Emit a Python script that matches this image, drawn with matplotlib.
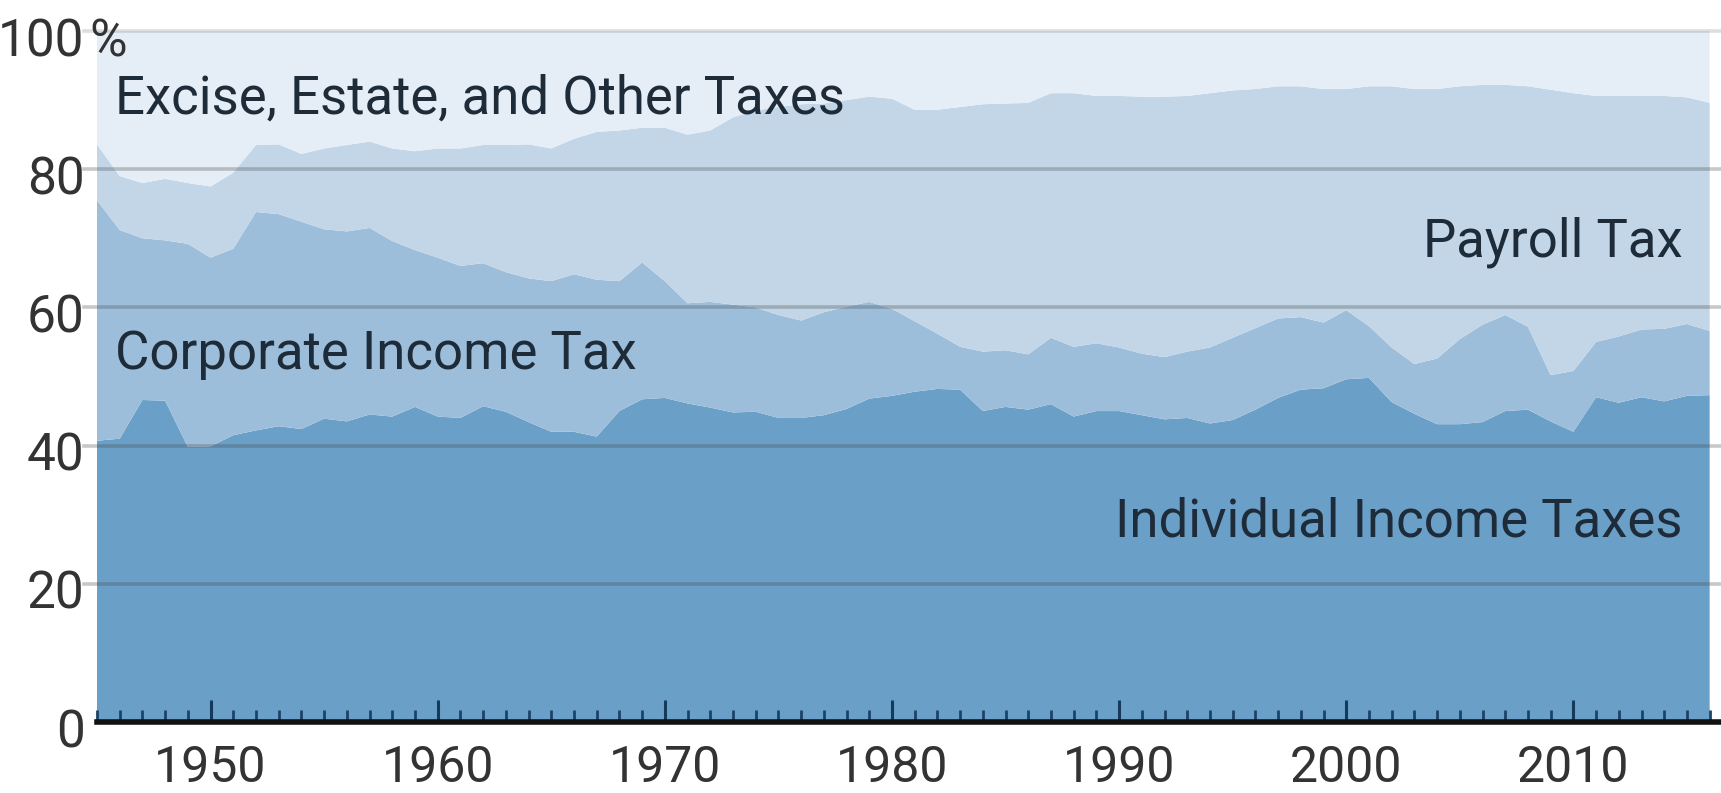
import matplotlib
matplotlib.use("Agg")
import matplotlib.pyplot as plt
import matplotlib.transforms as mtransforms
import numpy as np

years = list(range(1945, 2017))

individual = [40.7, 41.0, 46.6, 46.5, 39.8, 39.9, 41.5, 42.2, 42.8, 42.4, 43.9, 43.5,
              44.5, 44.2, 45.6, 44.2, 44.0, 45.7, 44.9, 43.4, 42.0, 42.0, 41.3, 45.0,
              46.7, 46.9, 46.1, 45.5, 44.8, 44.9, 44.0, 44.0, 44.4, 45.3, 46.8, 47.2,
              47.8, 48.2, 48.1, 45.0, 45.6, 45.2, 46.0, 44.2, 45.0, 45.0, 44.4, 43.8,
              44.0, 43.2, 43.7, 45.2, 46.9, 48.1, 48.3, 49.6, 49.8, 46.3, 44.6, 43.1,
              43.1, 43.4, 45.0, 45.2, 43.5, 42.0, 47.0, 46.2, 47.0, 46.4, 47.2, 47.3]

corp_top = [75.5, 71.2, 70.0, 69.7, 69.2, 67.2, 68.5, 73.8, 73.5, 72.4, 71.3, 71.0,
            71.5, 69.6, 68.3, 67.2, 66.0, 66.4, 65.1, 64.2, 63.8, 64.8, 64.0, 63.8,
            66.5, 63.8, 60.6, 60.8, 60.4, 60.0, 58.9, 58.1, 59.3, 60.1, 60.8, 59.8,
            58.0, 56.2, 54.3, 53.6, 53.8, 53.2, 55.6, 54.3, 54.8, 54.2, 53.3, 52.8,
            53.6, 54.2, 55.6, 57.0, 58.4, 58.6, 57.8, 59.6, 57.3, 54.2, 51.8, 52.6,
            55.4, 57.5, 58.9, 57.2, 50.2, 50.8, 55.0, 55.8, 56.8, 56.9, 57.6, 56.6]

payroll_top = [83.6, 79.0, 78.0, 78.6, 78.0, 77.5, 79.5, 83.5, 83.6, 82.2, 83.0, 83.5,
               84.0, 83.0, 82.6, 83.0, 83.0, 83.5, 83.5, 83.6, 83.0, 84.4, 85.4, 85.6,
               86.0, 86.0, 85.0, 85.6, 87.5, 88.5, 89.0, 89.4, 89.5, 90.0, 90.5, 90.2,
               88.6, 88.6, 89.0, 89.4, 89.5, 89.6, 91.0, 91.0, 90.6, 90.6, 90.5, 90.5,
               90.6, 91.0, 91.4, 91.6, 92.0, 92.0, 91.6, 91.6, 92.0, 92.0, 91.6, 91.6,
               92.0, 92.2, 92.2, 92.0, 91.5, 91.0, 90.6, 90.6, 90.6, 90.6, 90.4, 89.6]

categories = ["Individual Income Taxes", "Corporate Income Tax", "Payroll Tax",
              "Excise, Estate, and Other Taxes"]
y_ticks = [0, 20, 40, 60, 80, 100]
y_tick_labels = ["0", "20", "40", "60", "80", "100"]
x_ticks = [1950, 1960, 1970, 1980, 1990, 2000, 2010]

yrs = np.array(years, dtype=float)
ind = np.array(individual)
corp = np.array(corp_top) - ind
pay = np.array(payroll_top) - np.array(corp_top)
other = 100.0 - np.array(payroll_top)

colors = ["#6a9fc8", "#9dbedb", "#c2d6e7", "#e5edf6"]

FONT = ["Roboto", "DejaVu Sans"]
plt.rcParams["font.family"] = FONT

fig = plt.figure(figsize=(17.21, 7.93), dpi=100)
ax = fig.add_axes([97 / 1721, 71 / 793, (1721 - 97) / 1721, (722 - 31) / 793])

ax.stackplot(yrs, ind, corp, pay, other, colors=colors, linewidth=0, zorder=1)

ax.set_xlim(1945, 2016.5)
ax.set_ylim(0, 100)

# gridlines
for v in y_ticks[1:]:
    ax.axhline(v, color="#4a4a4a", alpha=0.3 if v < 100 else 0.18, lw=2.6, zorder=3,
               xmin=-0.008, xmax=1, clip_on=False)

for s in ["top", "right", "left"]:
    ax.spines[s].set_visible(False)
ax.spines["bottom"].set_linewidth(4)
ax.spines["bottom"].set_color("#111111")
ax.spines["bottom"].set_zorder(5)

ax.set_yticks(y_ticks)
ax.set_yticklabels(y_tick_labels)
ax.tick_params(axis="y", length=0, pad=9, labelsize=37, labelcolor="#333333")
# nudge y labels slightly below their gridlines, as in the reference
for lab in ax.get_yticklabels():
    lab.set_transform(lab.get_transform() +
                      mtransforms.ScaledTranslation(0, -4 / 72, fig.dpi_scale_trans))

ax.set_xticks(x_ticks)
ax.set_xticks(years, minor=True)
ax.tick_params(axis="x", which="major", direction="in", length=16, width=2.2,
               color="#163a5c", labelsize=36, labelcolor="#333333", pad=16)
ax.tick_params(axis="x", which="minor", direction="in", length=9, width=2.0,
               color="#1c4468")
for t in ax.xaxis.get_major_ticks() + ax.xaxis.get_minor_ticks():
    t.tick1line.set_zorder(4)
ax.set_axisbelow(False)

# percent sign for 100
trans = mtransforms.blended_transform_factory(ax.transAxes, ax.transData)
pct = ax.text(-0.0045, 100, "%", transform=trans, fontsize=37, color="#333333",
              ha="left", va="center_baseline")
pct.set_transform(trans + mtransforms.ScaledTranslation(0, -4 / 72, fig.dpi_scale_trans))

# area labels
lab_col = "#1e2c3a"
kw = dict(fontsize=38, color=lab_col, va="center", zorder=6)
ax.text(1945.8, 90.2, categories[3], ha="left", **kw)
ax.text(2014.8, 69.5, categories[2], ha="right", **kw)
ax.text(1945.8, 53.2, categories[1], ha="left", **kw)
ax.text(2014.8, 29.0, categories[0], ha="right", **kw)

fig.savefig("out.png", dpi=100)
